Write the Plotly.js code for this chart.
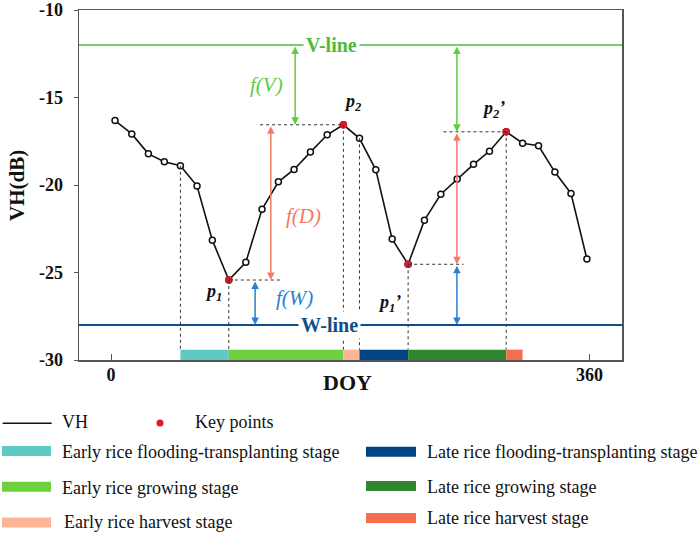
<!DOCTYPE html>
<html>
<head>
<meta charset="utf-8">
<script src="https://cdn.plot.ly/plotly-3.0.1.min.js"></script>
<style>html,body{margin:0;padding:0;background:#fff;}#chart{width:699px;height:533px;}</style>
</head>
<body>
<div id="chart"></div>
<script>
// ---------- data ----------
const doy = [3.0, 15.6, 28.1, 40.1, 52.2, 64.7, 76.2, 88.6, 101.4, 113.6, 125.9, 137.7, 150.0, 162.6, 174.8,
             186.9, 199.2, 211.5, 223.5, 235.8, 248.1, 260.4, 272.7, 284.7, 297.3, 309.6, 321.6, 333.9, 346.0, 358.0];
const vh = [-16.32, -17.08, -18.22, -18.67, -18.90, -20.06, -23.15, -25.43, -24.42, -21.39, -19.82, -19.11, -18.12, -17.13, -16.56,
            -17.33, -19.13, -23.09, -24.53, -22.01, -20.53, -19.66, -18.82, -18.07, -16.96, -17.61, -17.76, -19.26, -20.48, -24.23];
const keyIdx = [7, 14, 18, 24];            // p1, p2, p1', p2'
const keyNames = ['p1', 'p2', "p1'", "p2'"];
const vLine = -12;
const wLine = -28;
const stageNames = ['Early rice flooding-transplanting stage', 'Early rice growing stage', 'Early rice harvest stage',
                    'Late rice flooding-transplanting stage', 'Late rice growing stage', 'Late rice harvest stage'];
const stageStart = [52.2, 88.6, 174.8, 186.9, 223.5, 297.3];
const stageEnd   = [88.6, 174.8, 186.9, 223.5, 297.3, 309.6];
const vDashIdx = [4, 7, 14, 15, 18, 24];   // points with vertical guide lines
const yTicks = [-30, -25, -20, -15, -10];
const xTicks = [0, 360];

// ---------- styles ----------
const stageColors = ['#5ecac4', '#6cd03f', '#fcb595', '#004484', '#2e862e', '#f76d50'];
const cGreenLine = '#4dbb3b', cBlueLine = '#0d4f8b';
const cArrV = '#5fcc3f', cArrD = '#f57a66', cArrW = '#2a7fd3';
const serif = 'Liberation Serif, Times New Roman, serif';
const barTop = -29.41;

const kx = keyIdx.map(i => doy[i]);
const ky = keyIdx.map(i => vh[i]);
const [p1, p2, p1b, p2b] = [0, 1, 2, 3];

const shapes = [];
const annotations = [];

// stage bars
stageStart.forEach((s, i) => {
  shapes.push({type: 'rect', xref: 'x', yref: 'y', x0: s, x1: stageEnd[i], y0: -30, y1: barTop,
               fillcolor: stageColors[i], line: {width: 0}, layer: 'below'});
});
// V-line and W-line
shapes.push({type: 'line', xref: 'paper', yref: 'y', x0: 0, x1: 1, y0: vLine, y1: vLine, line: {color: cGreenLine, width: 1.6}});
shapes.push({type: 'line', xref: 'paper', yref: 'y', x0: 0, x1: 1, y0: wLine, y1: wLine, line: {color: cBlueLine, width: 1.8}});
// vertical dashed guides
const dashStyle = {color: '#333', width: 1, dash: '3px,3px'};
vDashIdx.forEach(i => {
  shapes.push({type: 'line', xref: 'x', yref: 'y', x0: doy[i], x1: doy[i], y0: vh[i], y1: barTop, line: dashStyle});
});
// horizontal dashed guides
const hDash = [[112.1, kx[p2], ky[p2]], [kx[p1], 127.2, ky[p1]], [kx[p1b], 265.2, ky[p1b]], [250.1, kx[p2b], ky[p2b]]];
hDash.forEach(h => {
  shapes.push({type: 'line', xref: 'x', yref: 'y', x0: h[0], x1: h[1], y0: h[2], y1: h[2], line: dashStyle});
});

// double arrows
function dArrow(x, y0, y1, color) {
  annotations.push({x: x, y: y1, ax: x, ay: y0, xref: 'x', yref: 'y', axref: 'x', ayref: 'y', text: '',
    showarrow: true, arrowhead: 2, startarrowhead: 2, arrowside: 'end+start', arrowsize: 1, startarrowsize: 1,
    arrowwidth: 1.5, arrowcolor: color, standoff: 0, startstandoff: 0});
}
dArrow(138.5, vLine, ky[p2], cArrV);
dArrow(120.2, ky[p2], ky[p1], cArrD);
dArrow(108.4, ky[p1], wLine, cArrW);
dArrow(260.2, vLine, ky[p2b], cArrV);
dArrow(260.2, ky[p2b], ky[p1b], cArrD);
dArrow(260.2, ky[p1b], wLine, cArrW);

// in-plot labels
function lab(x, y, text, color, size, extra) {
  annotations.push(Object.assign({x: x, y: y, xref: 'x', yref: 'y', text: text, showarrow: false,
    xanchor: 'center', yanchor: 'middle',
    font: {family: serif, size: size, color: color}}, extra || {}));
}
lab(165.6, vLine, '<b>V-line</b>', cGreenLine, 20, {bgcolor: '#fff', borderpad: 2});
lab(164.1, wLine, '<b>W-line</b>', cBlueLine, 20, {bgcolor: '#fff', borderpad: 2});
lab(117.2, -14.29, '<i>f(V)</i>', cArrV, 21);
lab(144.7, -21.78, '<i>f(D)</i>', cArrD, 21);
lab(137.7, -26.44, '<i>f(W)</i>', cArrW, 21);
lab(182.1, -15.29, '<b><i>p<sub>2</sub></i></b>', '#111', 18);
lab(287.5, -15.69, '<b><i>p<sub>2</sub>’</i></b>', '#111', 18);
lab(76.8, -26.17, '<b><i>p<sub>1</sub></i></b>', '#111', 18);
lab(209.2, -26.79, '<b><i>p<sub>1</sub>’</i></b>', '#111', 18);

// axis titles (pixel placement helpers)
const L = 79, R = 77, T = 10, B = 173, W = 699, H = 533;
const pw = W - L - R, ph = H - T - B;
const px = x => (x - L) / pw;
const py = y => (T + ph - y) / ph;
annotations.push({xref: 'paper', yref: 'paper', x: px(17), y: py(186), xanchor: 'center', yanchor: 'middle',
  text: '<b>VH(dB)</b>', textangle: -90, showarrow: false, font: {family: serif, size: 21, color: '#111'}});
annotations.push({xref: 'paper', yref: 'paper', x: px(347.5), y: py(382), xanchor: 'center', yanchor: 'middle',
  text: '<b>DOY</b>', showarrow: false, font: {family: serif, size: 22, color: '#111'}});

// ---------- custom legend ----------
const legFont = {family: serif, size: 18, color: '#111'};
shapes.push({type: 'line', xref: 'paper', yref: 'paper', x0: px(2.7), x1: px(51.7), y0: py(423.3), y1: py(423.3),
  line: {color: '#111', width: 1.6}});
shapes.push({type: 'circle', xref: 'paper', yref: 'paper', xsizemode: 'pixel', ysizemode: 'pixel',
  xanchor: px(160), yanchor: py(423), x0: -3.5, x1: 3.5, y0: -3.5, y1: 3.5, fillcolor: '#e3152b', line: {width: 0}});
annotations.push({xref: 'paper', yref: 'paper', x: px(60), y: py(422), xanchor: 'left', yanchor: 'middle',
  text: 'VH', showarrow: false, font: legFont});
annotations.push({xref: 'paper', yref: 'paper', x: px(192.7), y: py(422), xanchor: 'left', yanchor: 'middle',
  text: 'Key points', showarrow: false, font: legFont});
const legRows = [
  {x0: 2, x1: 51, yc: 451, ty: 451.7, tx: 60},
  {x0: 2, x1: 51, yc: 486.7, ty: 488, tx: 60},
  {x0: 2, x1: 51, yc: 522.5, ty: 521.7, tx: 62},
  {x0: 366, x1: 416, yc: 451.7, ty: 451.7, tx: 425},
  {x0: 366, x1: 416, yc: 486, ty: 487.3, tx: 425},
  {x0: 366, x1: 416, yc: 518, ty: 518, tx: 425}
];
stageNames.forEach((n, i) => {
  const r = legRows[i];
  shapes.push({type: 'rect', xref: 'paper', yref: 'paper', x0: px(r.x0), x1: px(r.x1), y0: py(r.yc - 5), y1: py(r.yc + 5),
    fillcolor: stageColors[i], line: {width: 0}});
  annotations.push({xref: 'paper', yref: 'paper', x: px(r.tx), y: py(r.ty), xanchor: 'left', yanchor: 'middle',
    text: n, showarrow: false, font: legFont});
});

// ---------- traces ----------
const traces = [
  {x: doy, y: vh, type: 'scatter', mode: 'lines+markers', name: 'VH', showlegend: false,
   line: {color: '#111', width: 1.6},
   marker: {symbol: 'circle', size: 6, color: '#fff', line: {color: '#111', width: 1.5}}},
  {x: kx, y: ky, type: 'scatter', mode: 'markers', name: 'Key points', showlegend: false, text: keyNames,
   marker: {symbol: 'circle', size: 7.5, color: '#e3152b', line: {width: 0}}}
];

const layout = {
  width: W, height: H,
  margin: {l: L, r: R, t: T, b: B},
  paper_bgcolor: '#fff', plot_bgcolor: '#fff',
  showlegend: false,
  font: {family: serif, color: '#111'},
  xaxis: {range: [-24.1, 384.4], tickvals: xTicks, ticktext: xTicks.map(String), showgrid: false, zeroline: false,
          showline: true, linecolor: '#555', linewidth: 1.5, mirror: true, ticks: 'inside', ticklen: 6, tickcolor: '#555',
          tickfont: {family: serif, size: 18, weight: 700, color: '#111'}, ticklabelstandoff: -2,
          ticklabeloverflow: 'allow'},
  yaxis: {range: [-30, -10], tickvals: yTicks, ticktext: yTicks.map(String), showgrid: false, zeroline: false,
          showline: true, linecolor: '#555', linewidth: 1.5, mirror: true, ticks: 'outside', ticklen: 4, tickcolor: '#555',
          tickfont: {family: serif, size: 18, weight: 700, color: '#111'}, ticklabelstandoff: 7,
          ticklabeloverflow: 'allow'},
  shapes: shapes,
  annotations: annotations
};
Plotly.newPlot('chart', traces, layout, {staticPlot: true, displayModeBar: false});
</script>
</body>
</html>
